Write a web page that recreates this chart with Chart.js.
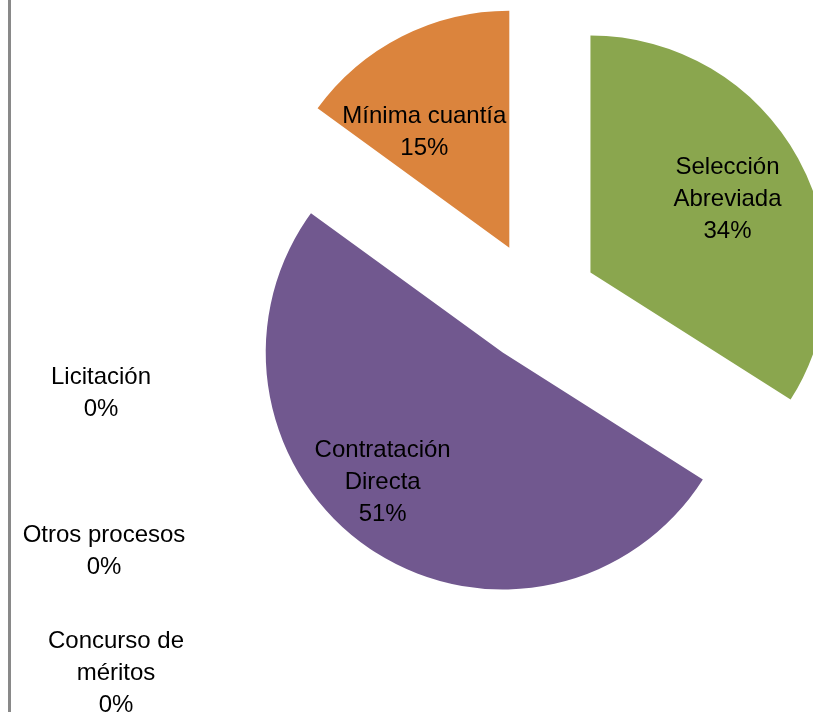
<!DOCTYPE html>
<html>
<head>
<meta charset="utf-8">
<script src="https://cdn.jsdelivr.net/npm/chart.js@4.4.0/dist/chart.umd.min.js"></script>
<style>
    html, body { margin: 0; padding: 0; background: #fff; }
    #wrap { position: relative; width: 813px; height: 712px; overflow: hidden; }
    #edge { position: absolute; left: 8px; top: 0; width: 3px; height: 712px; background: #898989; }
</style>
</head>
<body>
<div id="wrap">
    <canvas id="procesos"></canvas>
    <div id="edge"></div>
</div>
<script>
// datos
const categorias = ['Selección Abreviada', 'Contratación Directa', 'Concurso de méritos', 'Otros procesos', 'Licitación', 'Mínima cuantía'];
const porcentajes = [34, 51, 0, 0, 0, 15];
const etiquetas = [['Selección', 'Abreviada'], ['Contratación', 'Directa'], ['Concurso de', 'méritos'], ['Otros procesos'], ['Licitación'], ['Mínima cuantía']];
const colores = ['#8aa64e', '#71588f', '#4a7ebb', '#4aacc6', '#be4b48', '#db843d'];

// estilo
const explode = 61;
const lineHeight = 32;
const labelFont = '24px "Liberation Sans", Arial, sans-serif';
// labels inside slices: [angle shift in degrees, distance as share of radius]
const dentro = {0: [0, 0.66], 1: [9, 0.74], 5: [-9, 0.61]};
// empty slices get their label left of the pie: [dx, dy] from the pie centre
const fuera = {2: [-421, 369], 3: [-433, 247], 4: [-436, 89]};

const explotar = {
    id: 'explotar',
    beforeDatasetsDraw(chart) {
        const area = chart.chartArea;
        const cx = (area.left + area.right) / 2;
        const cy = (area.top + area.bottom) / 2;
        chart.getDatasetMeta(0).data.forEach(function (arc, i) {
            if (!porcentajes[i]) return;
            const mid = (arc.startAngle + arc.endAngle) / 2;
            arc.x = cx + Math.cos(mid) * explode;
            arc.y = cy + Math.sin(mid) * explode;
        });
    },
    afterDatasetsDraw(chart) {
        const ctx = chart.ctx;
        const area = chart.chartArea;
        const cx = (area.left + area.right) / 2;
        const cy = (area.top + area.bottom) / 2;
        ctx.save();
        ctx.font = labelFont;
        ctx.fillStyle = '#000';
        ctx.textAlign = 'center';
        ctx.textBaseline = 'middle';
        chart.getDatasetMeta(0).data.forEach(function (arc, i) {
            let x, y;
            if (porcentajes[i]) {
                const p = dentro[i];
                const a = (arc.startAngle + arc.endAngle) / 2 + p[0] * Math.PI / 180;
                x = arc.x + Math.cos(a) * arc.outerRadius * p[1];
                y = arc.y + Math.sin(a) * arc.outerRadius * p[1];
            } else {
                x = cx + fuera[i][0];
                y = cy + fuera[i][1];
            }
            const lines = etiquetas[i].concat([porcentajes[i] + '%']);
            let top = y + 2 - (lines.length - 1) * lineHeight / 2;
            lines.forEach(function (t, k) {
                ctx.fillText(t, x, top + k * lineHeight);
            });
        });
        ctx.restore();
    }
};

new Chart(document.getElementById('procesos'), {
    type: 'pie',
    data: {
        labels: categorias,
        datasets: [{
            data: porcentajes,
            backgroundColor: colores,
            borderWidth: 0
        }]
    },
    options: {
        responsive: true,
        maintainAspectRatio: false,
        animation: false,
        radius: 237,
        events: [],
        layout: { padding: { left: 261, right: 0, top: 0, bottom: 108 } },
        plugins: {
            legend: { display: false },
            tooltip: { enabled: false }
        }
    },
    plugins: [explotar]
});
</script>
</body>
</html>
